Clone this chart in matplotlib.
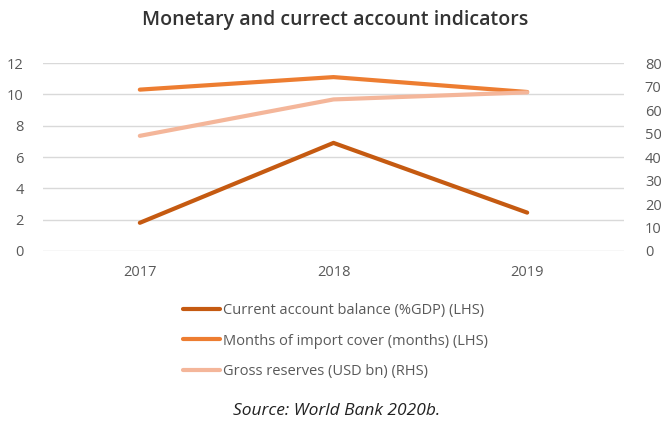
import matplotlib
matplotlib.use("Agg")
import matplotlib.pyplot as plt
from matplotlib.ticker import MultipleLocator

years = ["2017", "2018", "2019"]
current_account = [1.8, 6.9, 2.45]      # % of GDP (LHS)
import_cover = [10.3, 11.1, 10.15]      # months (LHS)
gross_reserves = [49, 64.5, 67.5]       # USD bn (RHS)

labels = [
    "Current account balance (%GDP) (LHS)",
    "Months of import cover (months) (LHS)",
    "Gross reserves (USD bn) (RHS)",
]
colors = ["#C55A11", "#ED7D31", "#F4B69A"]

W, H = 661, 428
fig = plt.figure(figsize=(W / 100, H / 100), dpi=100)
fig.patch.set_facecolor("white")

ax = fig.add_axes([43 / W, 1 - 251 / H, 581 / W, 188 / H])
ax2 = ax.twinx()

x = list(range(len(years)))
l1, = ax.plot(x, current_account, color=colors[0], lw=3, solid_capstyle="round", zorder=3)
l2, = ax.plot(x, import_cover, color=colors[1], lw=3, solid_capstyle="round", zorder=3)
l3, = ax2.plot(x, gross_reserves, color=colors[2], lw=3, solid_capstyle="round", zorder=3)

ax.set_xlim(-0.5, len(years) - 0.5)
ax.set_ylim(0, 12)
ax2.set_ylim(0, 80)
ax.yaxis.set_major_locator(MultipleLocator(2))
ax2.yaxis.set_major_locator(MultipleLocator(10))
ax.set_xticks(x)
ax.set_xticklabels(years)

ax.grid(axis="y", color="#D9D9D9", lw=1)
ax.set_axisbelow(True)
for a in (ax, ax2):
    for s in a.spines.values():
        s.set_visible(False)
    a.tick_params(length=0, colors="#595959", labelsize=10.5)
ax.tick_params(axis="y", pad=14)
ax.tick_params(axis="x", pad=10)
ax2.tick_params(axis="y", pad=15)
for t in ax.get_yticklabels() + ax2.get_yticklabels() + ax.get_xticklabels():
    t.set_fontfamily("Open Sans")

fig.text(335 / W, 1 - 20 / H, "Monetary and currect account indicators",
         ha="center", va="center", fontsize=14, fontweight="semibold",
         color="#333333", family="Open Sans")

leg = fig.legend([l1, l2, l3], labels, loc="upper left",
                 bbox_to_anchor=(176 / W, 1 - 296 / H), frameon=False,
                 fontsize=10.5, handlelength=2.5, handletextpad=0.2,
                 labelspacing=1.05, borderpad=0)
for t in leg.get_texts():
    t.set_color("#595959")
    t.set_fontfamily("Open Sans")

fig.text(337 / W, 1 - 411 / H, "Source: World Bank 2020b.", ha="center",
         va="center", fontsize=12.5, style="italic", color="#222222", family="Open Sans")

fig.savefig("out.png", dpi=100)
